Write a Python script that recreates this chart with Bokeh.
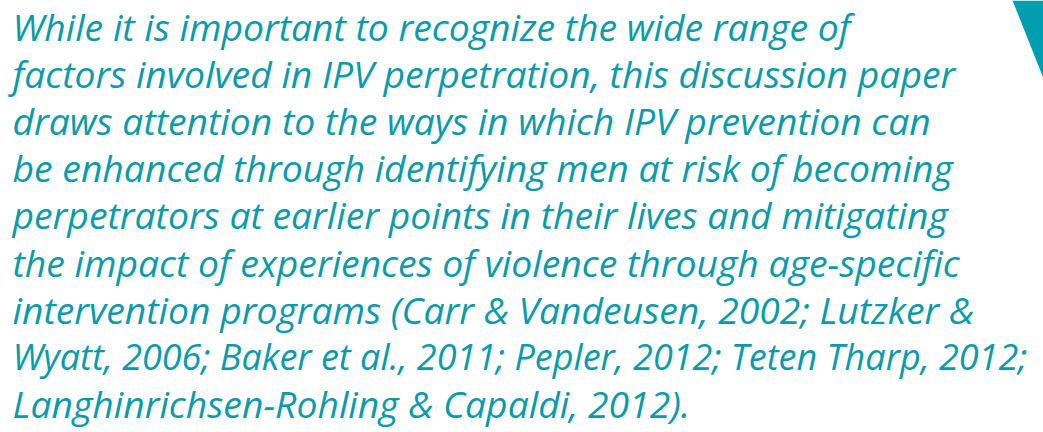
from bokeh.plotting import figure
from bokeh.models import Range1d, ColumnDataSource
from bokeh.core.properties import value
from bokeh.embed import file_html
from bokeh.resources import INLINE

lines = [
    "While it is important to recognize the wide range of",
    "factors involved in IPV perpetration, this discussion paper",
    "draws attention to the ways in which IPV prevention can",
    "be enhanced through identifying men at risk of becoming",
    "perpetrators at earlier points in their lives and mitigating",
    "the impact of experiences of violence through age-specific",
    "intervention programs (Carr & Vandeusen, 2002; Lutzker &",
    "Wyatt, 2006; Baker et al., 2011; Pepler, 2012; Teten Tharp, 2012;",
    "Langhinrichsen-Rohling & Capaldi, 2012).",
]
line_index = list(range(len(lines)))
tri_x = [1012, 1043, 1043]
tri_y = [0, 0, 78]

TEAL = "#0b9aaa"

W, H = 1043, 432
p = figure(width=W, height=H, output_backend="svg", toolbar_location=None,
           x_range=Range1d(0, W), y_range=Range1d(H, 0), min_border=0)
p.axis.visible = False
p.grid.visible = False
p.outline_line_color = None
p.background_fill_color = "white"

p.patch(tri_x, tri_y, fill_color="#009eb0", line_color=None)

# layout: baselines in screen pixels (corrected for the renderer's text offset)
first_baseline = 26
spacing = 47.1
sizes = ["37.3px"] * len(lines)
sizes[7] = "36px"  # longest line fitted to the page width
src = ColumnDataSource(dict(
    x=[12] * len(lines),
    y=[first_baseline + spacing * i for i in line_index],
    t=lines,
    s=sizes,
))
p.text(x="x", y="y", text="t", source=src, text_font=value("Open Sans"),
       text_font_style="italic", text_font_size="s", text_color=TEAL,
       text_baseline="alphabetic", text_align="left")

open("out.html", "w").write(file_html(p, INLINE))
